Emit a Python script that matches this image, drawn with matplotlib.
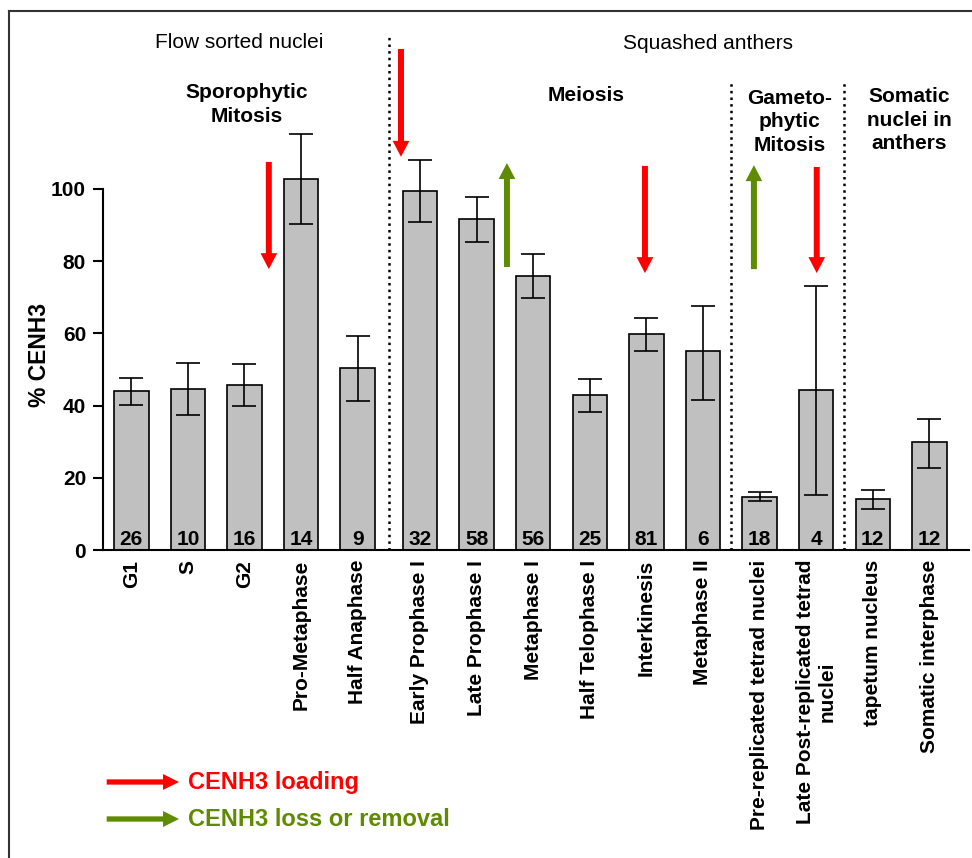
import numpy as np
import matplotlib
matplotlib.use("Agg")
import matplotlib.pyplot as plt
from matplotlib.patches import FancyArrowPatch
from matplotlib.lines import Line2D

plt.rcParams['font.family'] = ['Liberation Sans', 'DejaVu Sans']

categories = ["G1", "S", "G2", "Pro-Metaphase", "Half Anaphase",
              "Early Prophase I", "Late Prophase I", "Metaphase I", "Half Telophase I",
              "Interkinesis", "Metaphase II", "Pre-replicated tetrad nuclei",
              "Late Post-replicated tetrad\nnuclei", "tapetum nucleus", "Somatic interphase"]
means = [44.1, 44.6, 45.8, 102.9, 50.4, 99.4, 91.6, 76.0, 42.9, 59.8, 55.0, 14.8, 44.2, 14.0, 29.8]
err_low = [40.2, 37.4, 40.0, 90.4, 41.4, 90.9, 85.2, 69.9, 38.1, 55.2, 41.6, 13.5, 15.1, 11.3, 22.8]
err_high = [47.6, 51.9, 51.5, 115.2, 59.3, 107.9, 97.8, 82.0, 47.3, 64.3, 67.7, 16.0, 73.2, 16.6, 36.4]
counts = [26, 10, 16, 14, 9, 32, 58, 56, 25, 81, 6, 18, 4, 12, 12]

W, H = 972, 858
fig = plt.figure(figsize=(W / 100, H / 100), dpi=100)

px_per_unit = 3.61
y0_px = 550
ax_left = 102.7 / W
ax_right = 969 / W
ax_bottom = (H - y0_px) / H
ax_height = 150 * px_per_unit / H
ax = fig.add_axes([ax_left, ax_bottom, ax_right - ax_left, ax_height])

n = len(categories)
idx = np.arange(n)
pos = idx + np.where(idx >= 5, 0.1, 0.0)

means_a = np.array(means)
yerr = np.vstack([means_a - np.array(err_low), np.array(err_high) - means_a])

ax.bar(pos, means_a, width=0.61, color='#C0C0C0', edgecolor='black', linewidth=1.2, zorder=2, clip_on=False)
ax.errorbar(pos, means_a, yerr=yerr, fmt='none', ecolor='black', elinewidth=1.2,
            capsize=8.4, capthick=1.2, zorder=3, clip_on=False)

for x, c in zip(pos, counts):
    ax.text(x, 1.4, str(c), ha='center', va='baseline', fontsize=15, fontweight='bold', zorder=4)

ax.set_xlim(-0.505, 14.80)
ax.set_ylim(0, 150)
ax.set_yticks([0, 20, 40, 60, 80, 100])
ax.set_yticklabels(['0', '20', '40', '60', '80', '100'], fontsize=15, fontweight='bold')
ax.set_xticks(pos)
ax.set_xticklabels(categories, rotation=90, fontsize=15, fontweight='bold', va='top', ha='center',
                   multialignment='center')
ax.tick_params(axis='x', length=0, pad=7)
ax.tick_params(axis='y', length=7, width=1.5, pad=5)
for s in ['top', 'right']:
    ax.spines[s].set_visible(False)
ax.spines['left'].set_bounds(0, 100)
ax.spines['left'].set_linewidth(1.5)
ax.spines['bottom'].set_linewidth(1.5)
ax.patch.set_alpha(0)

# dotted separators
for xs, ytop in [(4.55, 142), (10.6, 129.4), (12.6, 129.4)]:
    ax.plot([xs, xs], [0, ytop], linestyle=':', color='black', linewidth=1.8, clip_on=False, zorder=1)

# group labels
ax.text(1.90, 140.7, "Flow sorted nuclei", ha='center', va='center', fontsize=15)
ax.text(10.19, 140.4, "Squashed anthers", ha='center', va='center', fontsize=15)
ax.text(2.04, 123.4, "Sporophytic\nMitosis", ha='center', va='center', fontsize=15,
        fontweight='bold', linespacing=1.32)
ax.text(8.03, 125.8, "Meiosis", ha='center', va='center', fontsize=15, fontweight='bold')
ax.text(11.63, 118.6, "Gameto-\nphytic\nMitosis", ha='center', va='center', fontsize=15,
        fontweight='bold', linespacing=1.32)
ax.text(13.74, 119.1, "Somatic\nnuclei in\nanthers", ha='center', va='center', fontsize=15,
        fontweight='bold', linespacing=1.32)

RED = '#FF0000'
GREEN = '#5E8B00'

def arrow(x, y1, y2, color):
    a = FancyArrowPatch((x, y1), (x, y2),
                        arrowstyle='simple,head_length=11.5,head_width=12,tail_width=4.3',
                        mutation_scale=1, color=color, lw=0, shrinkA=0, shrinkB=0,
                        clip_on=False, zorder=5)
    ax.add_patch(a)

arrow(2.43, 107.5, 77.8, RED)
arrow(4.765, 138.8, 108.9, RED)
arrow(6.637, 78.4, 107.2, GREEN)
arrow(9.075, 106.4, 76.7, RED)
arrow(11.0, 77.8, 106.6, GREEN)
arrow(12.11, 106.1, 76.7, RED)

# y label
fig.text(40 / W, 1 - 355 / H, "% CENH3", rotation=90, ha='center', va='center',
         fontsize=16.5, fontweight='bold')

# legend
def fig_arrow(x1, x2, y, color):
    a = FancyArrowPatch((x1 / W, 1 - y / H), (x2 / W, 1 - y / H), transform=fig.transFigure,
                        arrowstyle='simple,head_length=11.5,head_width=11.5,tail_width=3.8',
                        mutation_scale=1, color=color, lw=0, shrinkA=0, shrinkB=0)
    fig.add_artist(a)

fig_arrow(106.7, 179, 782, RED)
fig_arrow(106.7, 179, 819, GREEN)
fig.text(188 / W, 1 - 782 / H, "CENH3 loading", color=RED, fontsize=17, fontweight='bold',
         ha='left', va='center')
fig.text(188 / W, 1 - 819 / H, "CENH3 loss or removal", color=GREEN, fontsize=17,
         fontweight='bold', ha='left', va='center')

# outer frame (left and top edges)
fig.add_artist(Line2D([9 / W, 9 / W], [0, 1 - 11 / H], transform=fig.transFigure,
                      color='#333333', linewidth=1.5))
fig.add_artist(Line2D([9 / W, 1], [1 - 11 / H, 1 - 11 / H], transform=fig.transFigure,
                      color='#333333', linewidth=1.5))

fig.savefig("out.png", dpi=100)
